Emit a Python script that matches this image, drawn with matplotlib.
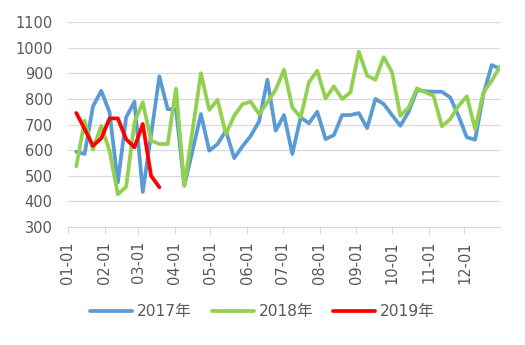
import matplotlib.pyplot as plt
plt.switch_backend('agg')
import numpy as np
import pandas as pd
import matplotlib.dates as mdate

plt.rcParams['font.family'] = ['DejaVu Sans', 'Noto Sans CJK SC']

# weekly observations, drawn on a shared month-day axis
weeks = pd.date_range('2017-01-08', periods=52, freq='7D')

v2017 = [594, 585, 770, 832, 748, 474, 728, 789, 437, 660,
         888, 760, 760, 461, 600, 741, 598, 624, 676, 569,
         615, 656, 712, 875, 676, 737, 585, 728, 705, 750,
         643, 659, 737, 737, 745, 686, 800, 780, 737, 695,
         750, 835, 830, 828, 828, 806, 734, 650, 641, 819,
         932, 918]
v2018 = [537, 715, 602, 695, 598, 428, 457, 708, 787, 637,
         624, 624, 840, 461, 680, 900, 757, 796, 663, 734,
         780, 789, 741, 787, 836, 914, 767, 728, 865, 910,
         802, 849, 800, 826, 985, 891, 875, 963, 904, 734,
         767, 841, 826, 812, 693, 721, 773, 810, 682, 826,
         871, 927]
v2019 = [745, 683, 617, 646, 724, 724, 643, 611, 702, 500, 455]

series = ['2017年', '2018年', '2019年']
colors = ['#5B9BD5', '#92D050', '#FF0000']

fig = plt.figure(figsize=(5.25, 3.45), dpi=100)
ax = fig.add_axes([0.1295, 0.342, 0.823, 0.594])

for vals, name, c in zip([v2017, v2018, v2019], series, colors):
    ax.plot(weeks[:len(vals)], vals, color=c, lw=2.7, label=name,
            solid_joinstyle='round', solid_capstyle='round')

ax.set_ylim(300, 1100)
ax.set_yticks(np.arange(300, 1101, 100))
ax.set_xlim(pd.Timestamp('2017-01-01'), pd.Timestamp('2017-12-31'))
ax.xaxis.set_major_locator(mdate.MonthLocator())
ax.xaxis.set_major_formatter(mdate.DateFormatter('%m-%d'))
plt.setp(ax.get_xticklabels(), rotation=90)

ax.grid(axis='y', color='#d9d9d9', lw=0.9)
ax.set_axisbelow(True)
for s in ['left', 'right', 'top']:
    ax.spines[s].set_visible(False)
ax.spines['bottom'].set_color('#d9d9d9')
ax.tick_params(axis='y', length=0, pad=11, labelsize=10.5, labelcolor='#595959')
ax.tick_params(axis='x', length=5, color='#d9d9d9', pad=5, labelsize=10.5,
               labelcolor='#595959')

fig.legend(loc='center', bbox_to_anchor=(0.5, 0.096), ncol=3, frameon=False,
           handlelength=2.7, columnspacing=1.3, handletextpad=0.3,
           fontsize=11.2, labelcolor='#595959')

fig.savefig('out.png', dpi=100)
